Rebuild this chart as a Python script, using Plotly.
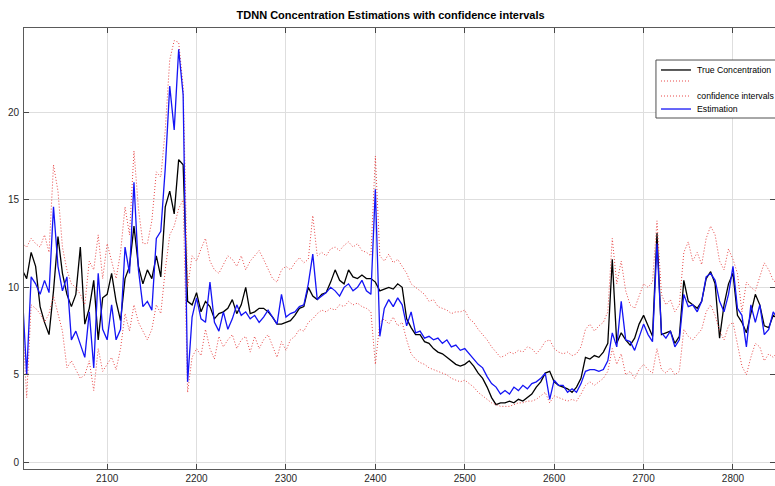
import plotly.graph_objects as go

# sample index (every 5th step)
sample = list(range(2005, 2855, 5))

true_conc = [
    11.0, 10.5, 12.0, 11.2, 8.9, 8.0, 7.3, 9.8, 12.9, 10.8,
    9.6, 8.9, 9.6, 12.3, 7.9, 8.8, 10.4, 7.0, 9.4, 9.6,
    10.8, 9.2, 8.1, 10.5, 11.2, 13.5, 11.2, 10.2, 11.0, 10.5,
    11.8, 10.6, 14.6, 15.5, 14.2, 17.3, 17.0, 9.2, 9.0, 9.7,
    8.6, 9.2, 8.9, 8.2, 8.5, 8.6, 8.8, 9.3, 8.5, 9.0,
    10.0, 8.5, 8.6, 8.8, 8.8, 8.6, 8.3, 7.9, 7.9, 8.0,
    8.1, 8.4, 8.8, 8.9, 10.0, 9.5, 9.3, 9.6, 9.7, 10.3,
    11.0, 10.4, 10.2, 11.0, 10.6, 10.5, 10.7, 10.5, 10.5, 10.3,
    9.8, 9.9, 10.0, 9.9, 10.2, 10.0, 8.2, 7.7, 7.3, 7.3,
    6.9, 6.8, 6.5, 6.3, 6.2, 6.0, 5.8, 5.6, 5.5, 5.6,
    5.8, 5.5, 5.1, 4.8, 4.3, 3.7, 3.3, 3.4, 3.4, 3.5,
    3.4, 3.6, 3.5, 3.7, 3.9, 4.3, 4.6, 5.1, 5.2, 4.6,
    4.4, 4.3, 4.2, 4.0, 4.3, 4.8, 6.0, 5.9, 6.1, 6.0,
    6.3, 6.8, 11.6, 6.8, 7.4, 7.0, 6.7, 7.1, 7.9, 8.4,
    7.8, 7.2, 13.1, 7.3, 7.4, 7.5, 6.8, 7.2, 10.4, 9.2,
    9.0, 8.8, 9.2, 10.5, 10.9, 10.2, 7.1, 9.0, 10.2, 10.8,
    8.4, 8.0, 7.4, 8.6, 9.6, 9.0, 7.8, 7.7, 8.4, 8.2,
]

estimation = [
    9.8, 5.0, 10.6, 10.2, 9.6, 10.4, 9.7, 14.6, 11.2, 9.8,
    10.6, 7.0, 7.5, 6.8, 6.0, 8.6, 5.4, 10.8, 7.6, 7.0,
    9.0, 7.0, 7.6, 12.3, 10.8, 16.0, 11.0, 8.9, 9.2, 8.7,
    12.8, 13.2, 16.8, 21.5, 19.0, 23.6, 21.0, 4.6, 8.3, 9.4,
    8.2, 8.0, 10.3, 8.0, 7.5, 8.6, 7.6, 8.2, 9.0, 8.4,
    8.6, 8.2, 8.4, 8.0, 8.3, 8.7, 8.3, 7.9, 9.6, 8.3,
    8.5, 8.6, 8.9, 9.0, 10.2, 11.9, 9.3, 9.5, 9.7, 10.0,
    9.8, 9.5, 10.0, 10.2, 9.8, 10.0, 10.4, 9.8, 9.6, 15.6,
    7.2, 8.8, 9.3, 8.9, 9.4, 9.0, 7.8, 8.6, 7.4, 7.5,
    7.1, 7.2, 7.0, 7.1, 6.8, 7.0, 6.6, 6.7, 6.4, 6.5,
    6.2, 5.9, 5.6, 5.4, 4.9, 4.5, 4.3, 3.9, 4.1, 3.9,
    4.3, 4.1, 4.4, 4.2, 4.5, 4.6, 4.8, 5.1, 3.6, 4.7,
    4.4, 4.4, 4.0, 4.2, 4.0, 4.5, 5.2, 5.3, 5.3, 5.2,
    5.3, 5.8, 7.4, 6.6, 9.2, 7.0, 6.9, 6.4, 7.2, 7.9,
    7.3, 6.9, 12.5, 7.4, 7.1, 7.5, 6.6, 7.0, 9.6, 8.9,
    9.0, 8.6, 9.2, 10.6, 10.8, 10.4, 9.2, 8.6, 9.6, 11.2,
    8.8, 8.4, 6.6, 9.0, 8.0, 9.0, 7.3, 7.6, 8.6, 8.2,
]

ci_upper = [
    12.5, 12.3, 12.8, 12.5, 12.3, 13.0, 12.0, 17.0, 15.5, 12.3,
    11.0, 10.2, 10.0, 9.6, 9.0, 11.5, 11.0, 13.0, 10.5, 12.5,
    11.5, 10.5, 12.0, 14.6, 13.0, 17.8, 14.5, 12.5, 12.5, 13.8,
    16.6, 16.3, 19.0, 23.0, 24.1, 24.0, 21.5, 10.0, 11.8, 11.5,
    12.2, 12.8, 11.5, 11.0, 10.8, 11.3, 11.8, 11.6, 11.2, 11.8,
    11.0, 11.5, 11.8, 12.1, 11.6, 11.0, 10.5, 10.3, 11.0, 11.2,
    11.0, 11.4, 11.7, 11.4, 11.6, 14.1, 11.8, 12.0, 11.8, 12.2,
    12.3, 12.1, 12.4, 12.6, 12.3, 12.5, 12.1, 12.0, 11.8, 17.5,
    11.8, 11.5, 11.9, 11.4, 11.6, 11.2, 10.8, 10.2, 10.0, 9.8,
    9.6, 9.2, 9.3, 8.9, 8.8, 8.7, 8.5, 8.6, 8.6, 8.7,
    8.2, 8.0, 7.6, 7.3, 7.0, 6.6, 6.3, 6.0, 6.1, 6.3,
    6.2, 6.4, 6.3, 6.6, 6.5, 6.2, 6.5, 6.9, 7.0, 6.5,
    6.3, 6.2, 6.3, 6.1, 6.2, 6.6, 7.6, 7.9, 7.5, 7.8,
    8.0, 8.6, 12.8, 10.2, 11.5, 9.8, 9.0, 8.8, 9.5, 10.2,
    10.0, 10.3, 13.8, 9.6, 9.0, 9.3, 8.6, 9.0, 12.0, 12.6,
    11.5, 12.0, 11.3, 12.8, 13.5, 13.0, 11.5, 11.0, 12.2, 11.6,
    10.8, 8.6, 10.3, 10.0, 9.8, 10.6, 11.4, 11.0, 10.4, 10.2,
]

ci_lower = [
    8.5, 3.7, 9.0, 8.8, 8.5, 8.0, 8.5, 9.5, 8.5, 7.5,
    5.4, 5.8, 5.3, 4.8, 5.0, 5.8, 4.1, 6.5, 5.2, 5.6,
    6.0, 5.3, 6.5, 8.5, 7.5, 9.0, 8.0, 7.5, 7.0, 7.6,
    9.0, 8.5, 11.0, 13.0, 13.5, 14.5, 15.0, 4.0, 6.0, 6.5,
    6.1, 7.6, 6.5, 5.9, 7.2, 6.6, 7.0, 7.3, 6.5, 7.0,
    7.2, 6.3, 7.2, 6.5, 7.0, 7.3, 6.6, 6.0, 6.9, 6.4,
    7.0, 7.2, 7.6, 7.5, 8.0, 8.2, 8.5, 8.7, 8.6, 8.8,
    8.7, 9.0, 8.9, 9.2, 9.0, 9.1, 8.9, 8.8, 8.6, 5.6,
    8.0, 8.2, 7.9, 8.3, 7.8, 8.0, 7.0, 6.2, 5.9, 5.7,
    5.6, 5.4, 5.3, 5.2, 5.1, 5.0, 4.8, 4.7, 4.6, 4.7,
    4.5, 4.3, 4.0, 3.8, 3.6, 3.4, 3.3, 3.2, 3.2, 3.2,
    3.3, 3.4, 3.4, 3.5, 3.5, 3.6, 3.8, 4.0, 3.4, 3.8,
    3.7, 3.6, 3.5, 3.6, 3.5, 3.9, 4.4, 4.6, 4.4, 4.6,
    4.8, 5.2, 6.5, 5.6, 6.2, 5.0, 5.2, 4.8, 5.3, 5.6,
    5.3, 5.1, 6.5, 5.3, 5.1, 5.4, 5.0, 5.2, 7.6, 7.2,
    7.0, 7.3, 7.6, 8.6, 9.0, 8.4, 7.5, 7.0, 7.8, 8.0,
    6.8, 5.5, 5.0, 6.0, 6.8, 6.6, 5.8, 6.2, 6.0, 6.3,
]

x_ticks = [2100, 2200, 2300, 2400, 2500, 2600, 2700, 2800]
y_ticks = [0, 5, 10, 15, 20]

FONT = "Liberation Sans, Arial, sans-serif"
RED = "rgb(232,70,70)"
BLUE = "rgb(20,20,245)"

# legend rows: label, colour, dash
legend_rows = [
    ("True Concentration", "black", "solid"),
    ("", RED, "1px,2px"),
    ("confidence intervals", RED, "1px,2px"),
    ("Estimation", BLUE, "solid"),
]

fig = go.Figure()
fig.add_trace(go.Scatter(x=sample, y=true_conc, mode="lines", name="True Concentration",
                         line=dict(color="black", width=1.3)))
fig.add_trace(go.Scatter(x=sample, y=ci_upper, mode="lines", name="",
                         line=dict(color=RED, width=1, dash="1px,2px")))
fig.add_trace(go.Scatter(x=sample, y=ci_lower, mode="lines", name="confidence intervals",
                         line=dict(color=RED, width=1, dash="1px,2px")))
fig.add_trace(go.Scatter(x=sample, y=estimation, mode="lines", name="Estimation",
                         line=dict(color=BLUE, width=1.3)))

axis_common = dict(
    showgrid=True, gridcolor="rgb(222,222,222)", gridwidth=1,
    showline=True, linecolor="rgb(90,90,90)", linewidth=1, mirror="ticks",
    ticks="inside", ticklen=5, tickcolor="rgb(70,70,70)",
    tickfont=dict(family=FONT, size=10, color="rgb(40,40,40)"),
    zeroline=False,
)

# boxed legend in the upper right corner of the axes
box_x0, box_x1, box_y0, box_y1 = 0.8415, 1.01, 0.7959, 0.9274
sample_x0, sample_x1, text_x = 0.8482, 0.8881, 0.8935
row_y = [0.9048, 0.8798, 0.8458, 0.8163]

shapes = [dict(type="rect", xref="paper", yref="paper",
               x0=box_x0, x1=box_x1, y0=box_y0, y1=box_y1,
               line=dict(color="rgb(80,80,80)", width=1), fillcolor="white", layer="above")]
annotations = []
for (label, color, dash), yy in zip(legend_rows, row_y):
    shapes.append(dict(type="line", xref="paper", yref="paper",
                       x0=sample_x0, x1=sample_x1, y0=yy, y1=yy, layer="above",
                       line=dict(color=color, width=1.3 if dash == "solid" else 1, dash=dash)))
    if label:
        annotations.append(dict(text=label, xref="paper", yref="paper", x=text_x, y=yy,
                                xanchor="left", yanchor="middle", showarrow=False,
                                font=dict(family=FONT, size=8.7, color="black")))

fig.update_layout(
    width=775, height=486,
    margin=dict(l=24, r=0, t=28, b=17),
    paper_bgcolor="white", plot_bgcolor="white",
    title=dict(text="<b>TDNN Concentration Estimations with confidence intervals</b>",
               x=0.504, xanchor="center", y=0.969, yanchor="middle",
               font=dict(family=FONT, size=11, color="black")),
    xaxis=dict(range=[2007, 2847], tickvals=x_ticks, **axis_common),
    yaxis=dict(range=[-0.38, 24.82], tickvals=y_ticks, ticklabelstandoff=2, **axis_common),
    shapes=shapes,
    annotations=annotations,
    showlegend=False,
)

fig.write_html("out.html")
